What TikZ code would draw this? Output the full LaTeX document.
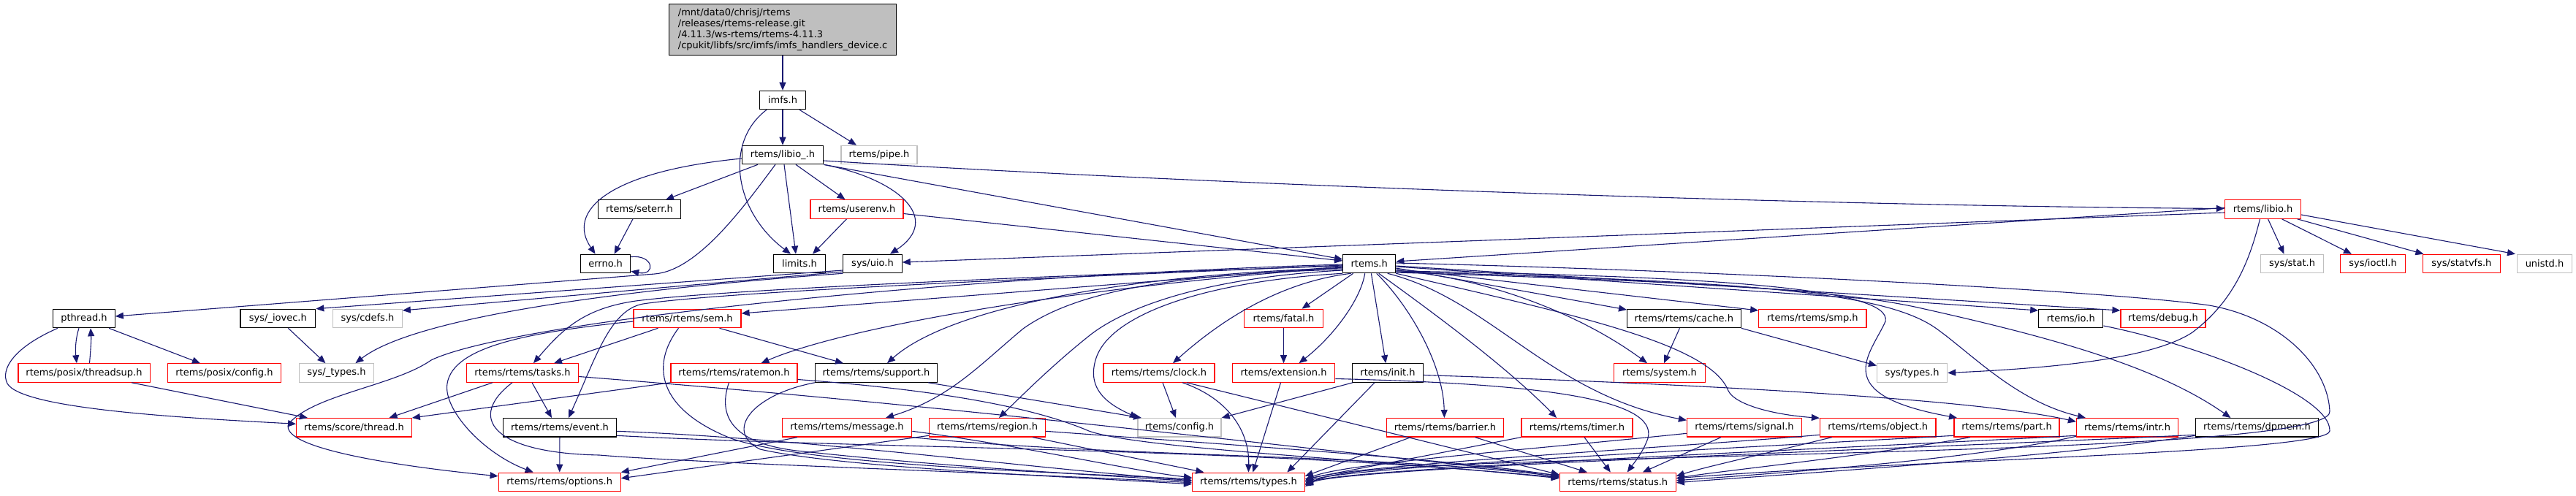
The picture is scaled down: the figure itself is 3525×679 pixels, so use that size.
\documentclass[tikz,border=0pt]{standalone}
\usepackage{fontspec}
\setmainfont{DejaVu Sans}
\usetikzlibrary{arrows.meta}
\definecolor{eblue}{HTML}{191970}
\definecolor{dred}{HTML}{FF0000}
\definecolor{lgray}{HTML}{BFBFBF}
\newcommand{\nodefont}{\fontsize{13}{15}\selectfont}
\begin{document}
\begin{tikzpicture}[x=1pt,y=-1pt,
  boxk/.style={draw=black, fill=white, line width=1.2pt, inner sep=0pt, minimum height=25.4pt, minimum width=#1, font=\nodefont},
  boxr/.style={boxk=#1, draw=dred},
  boxg/.style={boxk=#1, draw=lgray},
  edg/.style={draw=eblue, line width=1.1pt, -{Triangle[length=11pt,width=9pt]}}]
\useasboundingbox (0,0) rectangle (3525,679);

% ---------------- nodes ----------------
\node[boxk=311.4pt, fill=lgray, minimum height=69.6pt, align=left, font=\fontsize{13}{14.8}\selectfont] (src) at (1071,40.5)
  {/mnt/data0/chrisj/rtems\\/releases/rtems-release.git\\/4.11.3/ws-rtems/rtems-4.11.3\\/cpukit/libfs/src/imfs/imfs\_handlers\_device.c};
\node[boxk=63.2pt] (imfs) at (1071,137) {imfs.h};
\node[boxk=111pt] (libiou) at (1071,212) {rtems/libio\_.h};
\node[boxg=104pt] (pipe) at (1203,212) {rtems/pipe.h};
\node[boxk=113pt] (seterr) at (875,286.5) {rtems/seterr.h};
\node[boxr=127pt] (userenv) at (1172.5,286.5) {rtems/userenv.h};
\node[boxr=104pt] (libio) at (3096.5,286.5) {rtems/libio.h};
\node[boxk=68pt] (errno) at (828.6,361) {errno.h};
\node[boxk=70.4pt] (limits) at (1094,361) {limits.h};
\node[boxk=80.3pt] (uio) at (1194,361) {sys/uio.h};
\node[boxk=72pt] (rtemsh) at (1873.7,361) {rtems.h};
\node[boxg=85.5pt] (sstat) at (3136.5,361) {sys/stat.h};
\node[boxr=88.4pt] (ioctl) at (3247,361) {sys/ioctl.h};
\node[boxr=105.6pt] (statvfs) at (3368.4,361) {sys/statvfs.h};
\node[boxg=74.4pt] (unistd) at (3482,361) {unistd.h};
\node[boxk=84.6pt] (pthread) at (115,436) {pthread.h};
\node[boxk=102.7pt] (iovec) at (380.4,436) {sys/\_iovec.h};
\node[boxg=94.5pt] (cdefs) at (503,436) {sys/cdefs.h};
\node[boxr=147pt] (sem) at (940.5,436) {rtems/rtems/sem.h};
\node[boxr=107.4pt] (fatal) at (1756.5,436) {rtems/fatal.h};
\node[boxk=155.6pt] (cache) at (2304.4,436) {rtems/rtems/cache.h};
\node[boxr=147.3pt] (smp) at (2480.4,436) {rtems/rtems/smp.h};
\node[boxk=88pt] (io) at (2833.8,436) {rtems/io.h};
\node[boxr=116pt] (debug) at (2960,436) {rtems/debug.h};
\node[boxr=180.2pt] (threadsup) at (115,510.5) {rtems/posix/threadsup.h};
\node[boxr=155pt] (pconfig) at (307,510.5) {rtems/posix/config.h};
\node[boxg=102.6pt] (ustypes) at (460.4,510.5) {sys/\_types.h};
\node[boxr=153pt] (tasks) at (715,510.5) {rtems/rtems/tasks.h};
\node[boxr=173pt] (ratemon) at (1004.5,510.5) {rtems/rtems/ratemon.h};
\node[boxk=166.8pt] (support) at (1199,510.5) {rtems/rtems/support.h};
\node[boxr=152pt] (clock) at (1586,510.5) {rtems/rtems/clock.h};
\node[boxr=140.3pt] (extension) at (1756.5,510.5) {rtems/extension.h};
\node[boxk=97.6pt] (init) at (1899,510.5) {rtems/init.h};
\node[boxr=124.3pt] (system) at (2271,510.5) {rtems/system.h};
\node[boxg=96pt] (stypes) at (2616.6,510.5) {sys/types.h};
\node[boxr=157.6pt] (thread) at (484.5,585.3) {rtems/score/thread.h};
\node[boxk=154.6pt] (event) at (766,585.3) {rtems/rtems/event.h};
\node[boxr=177.4pt] (message) at (1159,585.3) {rtems/rtems/message.h};
\node[boxr=158.8pt] (region) at (1351,585.3) {rtems/rtems/region.h};
\node[boxg=114pt] (config) at (1614,585.3) {rtems/config.h};
\node[boxr=160pt] (barrier) at (1977.4,585.3) {rtems/rtems/barrier.h};
\node[boxr=152pt] (timer) at (2158,585.3) {rtems/rtems/timer.h};
\node[boxr=157pt] (signal) at (2387,585.3) {rtems/rtems/signal.h};
\node[boxr=158.5pt] (object) at (2569.7,585.3) {rtems/rtems/object.h};
\node[boxr=144pt] (part) at (2746,585.3) {rtems/rtems/part.h};
\node[boxr=139pt] (intr) at (2911,585.3) {rtems/rtems/intr.h};
\node[boxk=168.3pt] (dpmem) at (3088.4,585.3) {rtems/rtems/dpmem.h};
\node[boxr=167pt] (options) at (765.7,659.8) {rtems/rtems/options.h};
\node[boxr=153.7pt] (types) at (1708.4,659.8) {rtems/rtems/types.h};
\node[boxr=159pt] (status) at (2213.8,659.8) {rtems/rtems/status.h};

% ---------------- edges: top ----------------
\draw[edg] (src) -- (imfs);
\draw[edg] (imfs) -- (libiou);
\draw[edg] ([xshift=23pt]imfs.south) -- ([xshift=-31pt]pipe.north);
\draw[edg] ([xshift=-22pt]imfs.south) .. controls (990,195) and (1005,290) .. ([xshift=-12pt]limits.north);
\draw[edg] ([yshift=-5pt]libiou.west) .. controls (830,235) and (775,290) .. ([xshift=-14pt]errno.north);
\draw[edg] ([xshift=-34pt]libiou.south) -- ([xshift=36pt]seterr.north);
\draw[edg] ([xshift=-10pt]libiou.south) .. controls (1020,280) and (956,370) .. (896,375) -- ([yshift=3pt]pthread.east);
\draw[edg] ([xshift=2pt]libiou.south) -- ([xshift=-5pt]limits.north);
\draw[edg] ([xshift=18pt]libiou.south) -- ([xshift=-16pt]userenv.north);
\draw[edg] (libiou.south east) .. controls (1230,245) and (1290,300) .. ([xshift=24pt]uio.north);
\draw[edg] ([yshift=-8pt]libiou.east) .. controls (1700,255) and (2500,282) .. ([yshift=1pt]libio.west);
\draw[edg] (libiou.south east) -- ([yshift=6pt]rtemsh.west);
\draw[edg] ([xshift=-14pt]userenv.south) -- ([xshift=18pt]limits.north);
\draw[edg] ([yshift=-6pt]userenv.east) -- ([yshift=4pt]rtemsh.west);
\draw[edg] ([xshift=-9pt]seterr.south) -- ([xshift=12pt]errno.north);
\draw[edg] ([yshift=-4pt]errno.north east) .. controls (895,348) and (898,378) .. ([yshift=3pt]errno.south east);

% ---------------- sys/uio.h ----------------
\draw[edg] ([yshift=-9pt]uio.west) -- (iovec.north east);
\draw[edg] ([yshift=-11pt]uio.west) -- ([yshift=11pt]cdefs.east);
\draw[edg] (uio.south west) .. controls (800,400) and (560,440) .. ([xshift=26pt]ustypes.north);
\draw[edg] ([xshift=14pt]iovec.south) -- ([xshift=-15pt]ustypes.north);

% ---------------- pthread ----------------
\draw[edg] ([xshift=-7pt]pthread.south) .. controls (103,465) and (103,480) .. ([xshift=-10pt]threadsup.north);
\draw[edg] ([xshift=7.5pt]threadsup.north) .. controls (124,480) and (125,465) .. ([xshift=9pt]pthread.south);
\draw[edg] ([xshift=34pt]pthread.south) -- ([xshift=-33pt]pconfig.north);
\draw[edg] ([xshift=-36pt]pthread.south) .. controls (20,475) and (0,505) .. (10,525) .. controls (30,560) and (250,572) .. ([yshift=5pt]thread.west);
\draw[edg] ([xshift=65pt]threadsup.south) -- ([xshift=-63.5pt]thread.north);

% ---------------- rtems.h to the left ----------------
\draw[edg] ([yshift=-4pt]rtemsh.west) -- ([yshift=7pt]sem.east);
\draw[edg] ([yshift=-3pt]rtemsh.west) .. controls (1500,375) and (1000,395) .. (870,412) .. controls (800,422) and (770,450) .. ([xshift=15pt]tasks.north);
\draw[edg] ([yshift=-2pt]rtemsh.west) .. controls (1500,378) and (1000,398) .. (880,416) .. controls (835,424) and (815,490) .. ([xshift=12pt]event.north);
\draw[edg] ([yshift=-1pt]rtemsh.west) .. controls (1300,378) and (700,440) .. (590,493) .. controls (540,528) and (430,540) .. (395,580) .. controls (380,615) and (560,640) .. ([yshift=8pt]options.west);
\draw[edg] ([yshift=-5pt]rtemsh.west) .. controls (1450,395) and (1150,450) .. ([xshift=37pt]ratemon.north);
\draw[edg] ([yshift=-6pt]rtemsh.west) .. controls (1550,375) and (1300,420) .. ([xshift=15pt]support.north);
\draw[edg] ([yshift=-8pt]rtemsh.west) .. controls (1600,375) and (1470,400) .. (1400,450) .. controls (1340,500) and (1300,545) .. ([xshift=53pt]message.north);
\draw[edg] ([yshift=-9pt]rtemsh.west) .. controls (1650,380) and (1540,420) .. (1490,460) .. controls (1440,500) and (1400,540) .. ([xshift=16pt]region.north);
\draw[edg] (rtemsh.south west) .. controls (1650,385) and (1520,430) .. (1500,490) .. controls (1485,535) and (1520,555) .. ([xshift=-57pt]config.north);
\draw[edg] ([xshift=-25pt]rtemsh.south) .. controls (1760,385) and (1680,430) .. ([xshift=19pt]clock.north);
\draw[edg] ([xshift=-22pt]rtemsh.south) -- ([xshift=25pt]fatal.north);
\draw[edg] ([xshift=-6pt]rtemsh.south) .. controls (1862,410) and (1825,460) .. ([xshift=21pt]extension.north);
\draw[edg] ([xshift=2.7pt]rtemsh.south) -- ([xshift=-2.7pt]init.north);
\draw[edg] ([xshift=10pt]rtemsh.south) .. controls (1930,420) and (1975,500) .. ([xshift=-1pt]barrier.north);
\draw[edg] ([xshift=13pt]rtemsh.south) .. controls (1950,420) and (2060,500) .. ([xshift=-28pt]timer.north);
\draw[edg] ([xshift=25pt]rtemsh.south) .. controls (2040,410) and (2120,540) .. ([yshift=10pt]signal.west);

% ---------------- rtems.h to the right ----------------
\draw[edg] ([yshift=-6pt]rtemsh.east) -- ([yshift=12pt]cache.west);
\draw[edg] ([yshift=-9pt]rtemsh.east) .. controls (2050,382) and (2174,438) .. ([xshift=-17pt]system.north);
\draw[edg] ([yshift=-7pt]rtemsh.east) -- ([yshift=11pt]smp.west);
\draw[edg] ([yshift=-4pt]rtemsh.east) -- ([yshift=11pt]io.west);
\draw[edg] ([yshift=-3pt]rtemsh.east) -- ([yshift=11pt]debug.west);
\draw[edg] ([yshift=-10pt]rtemsh.east) .. controls (2350,378) and (2590,395) .. (2580,440) .. controls (2560,485) and (2500,540) .. ([xshift=-68pt]part.north);
\draw[edg] ([yshift=-11pt]rtemsh.east) .. controls (2400,385) and (2580,400) .. (2650,450) .. controls (2700,486) and (2760,550) .. ([xshift=-57pt]intr.north);
\draw[edg] ([yshift=-12pt]rtemsh.east) .. controls (2300,385) and (2500,395) .. (2620,420) .. controls (2800,460) and (2950,500) .. ([xshift=-36pt]dpmem.north);
\draw[edg] (rtemsh.south east) .. controls (2150,430) and (2340,470) .. (2365,535) .. controls (2375,555) and (2430,568) .. ([yshift=13pt]object.west);
\draw[edg] ([yshift=1pt]rtemsh.east) .. controls (2400,372) and (2900,400) .. (3023,418) .. controls (3120,435) and (3185,500) .. (3188,563) .. controls (3192,605) and (2700,615) .. (2350,625) .. controls (2000,635) and (1840,638) .. ([yshift=-4pt]types.east);
\draw[edg] ([yshift=-10pt]io.east) .. controls (3000,470) and (3190,540) .. (3188,590) .. controls (3186,620) and (2600,630) .. ([yshift=5pt]status.east);

% ---------------- rtems/libio.h ----------------
\draw[edg] ([xshift=7pt]libio.south) -- ([xshift=-11pt]sstat.north);
\draw[edg] ([xshift=26pt]libio.south) -- ([xshift=-29pt]ioctl.north);
\draw[edg] ([xshift=47pt]libio.south) -- ([xshift=-52pt]statvfs.north);
\draw[edg] ([yshift=-7.5pt]libio.east) -- ([xshift=-40pt]unistd.north);
\draw[edg] ([xshift=-4pt]libio.south) .. controls (3080,350) and (3060,410) .. (3000,455) .. controls (2940,495) and (2780,505) .. (stypes.east);
\draw[edg] ([yshift=2pt]libio.west) -- ([yshift=3pt]rtemsh.east);
\draw[edg] ([yshift=-4.5pt]libio.west) -- ([yshift=2pt]uio.east);

% ---------------- cache ----------------
\draw[edg] ([xshift=-6pt]cache.south) -- ([xshift=6pt]system.north);
\draw[edg] (cache.south east) -- ([yshift=10pt]stypes.west);

% ---------------- sem ----------------
\draw[edg] ([xshift=-40pt]sem.south) -- ([xshift=43pt]tasks.north);
\draw[edg] ([yshift=-4pt]sem.west) .. controls (720,455) and (620,475) .. (612,525) .. controls (606,560) and (660,620) .. ([xshift=-36pt]options.north);
\draw[edg] ([xshift=44pt]sem.south) -- ([xshift=-45pt]support.north);
\draw[edg] ([xshift=-12pt]sem.south) .. controls (890,500) and (900,560) .. (1000,600) .. controls (1100,635) and (1400,645) .. ([yshift=4pt]types.west);

% ---------------- tasks ----------------
\draw[edg] ([xshift=-41pt]tasks.south) -- ([xshift=48pt]thread.north);
\draw[edg] ([xshift=13pt]tasks.south) -- ([xshift=-11pt]event.north);
\draw[edg] ([xshift=-14pt]tasks.south) .. controls (640,570) and (670,620) .. (820,623) .. controls (950,634) and (1400,648) .. ([yshift=-1pt]types.west);
\draw[edg] ([yshift=-5pt]tasks.east) .. controls (1300,555) and (1700,605) .. ([yshift=9pt]status.west);

% ---------------- event ----------------
\draw[edg] (event) -- (options);
\draw[edg] ([yshift=-5pt]event.east) .. controls (1100,600) and (1400,640) .. ([yshift=2pt]types.west);
\draw[edg] ([yshift=-11pt]event.east) .. controls (1200,615) and (1700,612) .. ([yshift=6pt]status.west);

% ---------------- ratemon ----------------
\draw[edg] (ratemon.south west) -- (thread.north east);
\draw[edg] ([xshift=-7pt]ratemon.south) .. controls (985,560) and (990,605) .. (1090,617) .. controls (1300,640) and (1500,650) .. ([yshift=1pt]types.west);
\draw[edg] ([yshift=-9pt]ratemon.east) .. controls (1300,535) and (1420,560) .. (1490,590) .. controls (1560,615) and (1900,630) .. ([yshift=5pt]status.west);

% ---------------- support ----------------
\draw[edg] ([xshift=71pt]support.south) -- ([xshift=-52pt]config.north);
\draw[edg] (support.south west) .. controls (1030,540) and (990,590) .. (1040,615) .. controls (1150,640) and (1450,652) .. ([yshift=-3pt]types.west);

% ---------------- message / region ----------------
\draw[edg] ([xshift=-68pt]message.south) -- (options.north east);
\draw[edg] ([yshift=-5pt]message.east) .. controls (1400,610) and (1550,645) .. ([yshift=6pt]types.west);
\draw[edg] (message.south east) .. controls (1500,625) and (1900,622) .. ([yshift=7pt]status.west);
\draw[edg] ([yshift=-11pt]region.west) -- ([yshift=5pt]options.east);
\draw[edg] ([xshift=62pt]region.south) -- ([xshift=-61pt]types.north);
\draw[edg] ([yshift=-5pt]region.east) .. controls (1700,610) and (2000,630) .. ([yshift=8pt]status.west);

% ---------------- clock / extension / init ----------------
\draw[edg] ([xshift=5pt]clock.south) -- ([xshift=-5pt]config.north);
\draw[edg] ([xshift=32pt]clock.south) .. controls (1680,545) and (1710,590) .. (types.north);
\draw[edg] ([xshift=38pt]clock.south) -- ([yshift=10pt]status.west);
\draw[edg] (fatal) -- (extension);
\draw[edg] ([xshift=-4pt]extension.south) -- ([xshift=6pt]types.north);
\draw[edg] ([yshift=-8pt]extension.east) .. controls (2100,525) and (2270,545) .. (2255,600) .. controls (2248,620) and (2235,635) .. ([xshift=13pt]status.north);
\draw[edg] ([xshift=-48pt]init.south) -- (config.north east);
\draw[edg] ([xshift=-18pt]init.south) -- ([xshift=53pt]types.north);
\draw[edg] ([yshift=-3pt]init.east) .. controls (2300,525) and (2700,545) .. ([yshift=8pt]intr.west);

% ---------------- lower right nodes ----------------
\draw[edg] ([xshift=-47pt]barrier.south) -- ([yshift=8pt]types.east);
\draw[edg] ([xshift=41pt]barrier.south) -- ([xshift=-42pt]status.north);
\draw[edg] (timer.south west) -- ([yshift=4pt]types.east);
\draw[edg] ([xshift=10pt]timer.south) -- ([xshift=-10pt]status.north);
\draw[edg] ([yshift=-8pt]signal.west) .. controls (2100,615) and (1830,635) .. ([yshift=2pt]types.east);
\draw[edg] ([xshift=-32pt]signal.south) -- ([xshift=34pt]status.north);
\draw[edg] ([yshift=-10pt]object.west) .. controls (2300,612) and (1830,638) .. (types.east);
\draw[edg] ([xshift=-63pt]object.south) .. controls (2420,620) and (2330,640) .. ([yshift=8pt]status.east);
\draw[edg] ([yshift=-11pt]part.west) .. controls (2400,612) and (1830,640) .. ([yshift=-2pt]types.east);
\draw[edg] ([xshift=-50pt]part.south) .. controls (2550,625) and (2350,645) .. ([yshift=5pt]status.east);
\draw[edg] ([yshift=-11pt]intr.west) .. controls (2500,615) and (1830,642) .. ([yshift=-4pt]types.east);
\draw[edg] ([yshift=-12pt]intr.west) .. controls (2700,630) and (2400,650) .. ([yshift=2pt]status.east);
\draw[edg] ([yshift=-10pt]dpmem.west) .. controls (2600,615) and (1830,640) .. ([yshift=-6pt]types.east);
\draw[edg] ([yshift=-11pt]dpmem.west) .. controls (2800,628) and (2400,652) .. ([yshift=-1pt]status.east);
\end{tikzpicture}
\end{document}
